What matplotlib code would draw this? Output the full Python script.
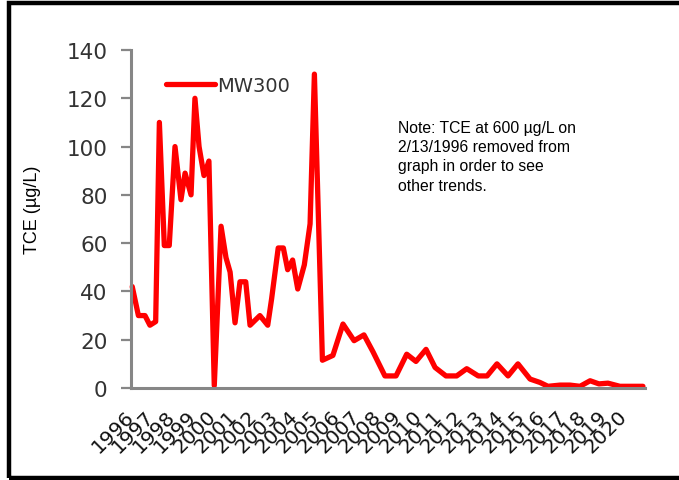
import matplotlib
matplotlib.use("Agg")
import matplotlib.pyplot as plt
from matplotlib.patches import Rectangle

# sample dates (decimal years) and TCE concentrations for MW300
years = [1996.06, 1996.36, 1996.68, 1996.92, 1997.20, 1997.38, 1997.62, 1997.86,
         1998.14, 1998.43, 1998.63, 1998.92, 1999.11, 1999.31, 1999.55, 1999.79,
         2000.05, 2000.38, 2000.62, 2000.82, 2001.06, 2001.30, 2001.58, 2001.79,
         2002.27, 2002.65, 2002.84, 2003.16, 2003.41, 2003.62, 2003.86, 2004.11,
         2004.43, 2004.71, 2004.92, 2005.31, 2005.82, 2006.31, 2006.85, 2007.33,
         2007.77, 2008.35, 2008.89, 2009.41, 2009.86, 2010.35, 2010.79, 2011.32,
         2011.84, 2012.33, 2012.89, 2013.32, 2013.80, 2014.34, 2014.82, 2015.41,
         2015.89, 2016.28, 2016.87, 2017.35, 2017.84, 2018.33, 2018.76, 2019.20,
         2019.78, 2020.42, 2020.90]
tce = [42, 30, 30, 26, 27.5, 110, 59, 59,
       100, 78, 89, 80, 120, 100, 88, 94,
       1, 67, 54, 48, 27, 44, 44, 26,
       30, 26, 37, 58, 58, 49, 53, 41,
       51, 68, 130, 11.5, 13.5, 26.5, 19.6, 22,
       15, 5, 5, 14, 11, 16, 8.5, 5,
       5, 8, 5, 5, 10, 5, 10, 3.7,
       2.3, 0.7, 1.2, 1.2, 0.7, 3, 1.7, 2,
       0.7, 0.7, 0.7]
year_labels = [str(y) for y in range(1996, 2021)]

fig = plt.figure(figsize=(6.79, 4.81), dpi=100)
ax = fig.add_axes([131 / 679, 92 / 481, 514 / 679, 338 / 481])

ax.plot(years, tce, color="#FF0000", linewidth=3.8, label="MW300",
        solid_joinstyle="round", solid_capstyle="round", clip_on=False)

ax.set_xlim(1996, 2021)
ax.set_ylim(0, 140)
ax.set_yticks(range(0, 141, 20))
ax.set_xticks(range(1996, 2021))
ax.set_xticklabels(year_labels, rotation=45, ha="right", va="center",
                   rotation_mode="anchor", fontsize=14.5, color="#111111",
                   family="DejaVu Sans")
for lab in ax.get_yticklabels():
    lab.set_fontsize(15.5)
    lab.set_color("#333333")
    lab.set_family("DejaVu Sans")

for side in ["top", "right"]:
    ax.spines[side].set_visible(False)
for side in ["left", "bottom"]:
    ax.spines[side].set_color("#868686")
    ax.spines[side].set_linewidth(2.2)
ax.tick_params(axis="y", length=7, width=1.6, color="#868686", direction="out", pad=10)
ax.tick_params(axis="x", length=0, pad=18)

ax.set_ylabel("TCE (µg/L)", fontsize=13, family="Liberation Sans")
ax.yaxis.set_label_coords(-0.175, 0.53)

ax.legend(loc="upper left", bbox_to_anchor=(0.035, 0.975), frameon=False,
          handlelength=2.5, handletextpad=0.1, prop={"family": "DejaVu Sans", "size": 14},
          labelcolor="#333333")

ax.text(398 / 679, 1 - 121 / 481,
        "Note: TCE at 600 µg/L on\n2/13/1996 removed from\ngraph in order to see\nother trends.",
        transform=fig.transFigure, fontsize=11.3, family="Liberation Sans",
        va="top", ha="left", linespacing=1.35)

# outer frame around the chart
fig.patches.append(Rectangle((9 / 679, 2 / 481), 1.0, 1 - 6 / 481,
                             transform=fig.transFigure, fill=False,
                             edgecolor="black", linewidth=3.2))

fig.savefig("out.png", dpi=100)
